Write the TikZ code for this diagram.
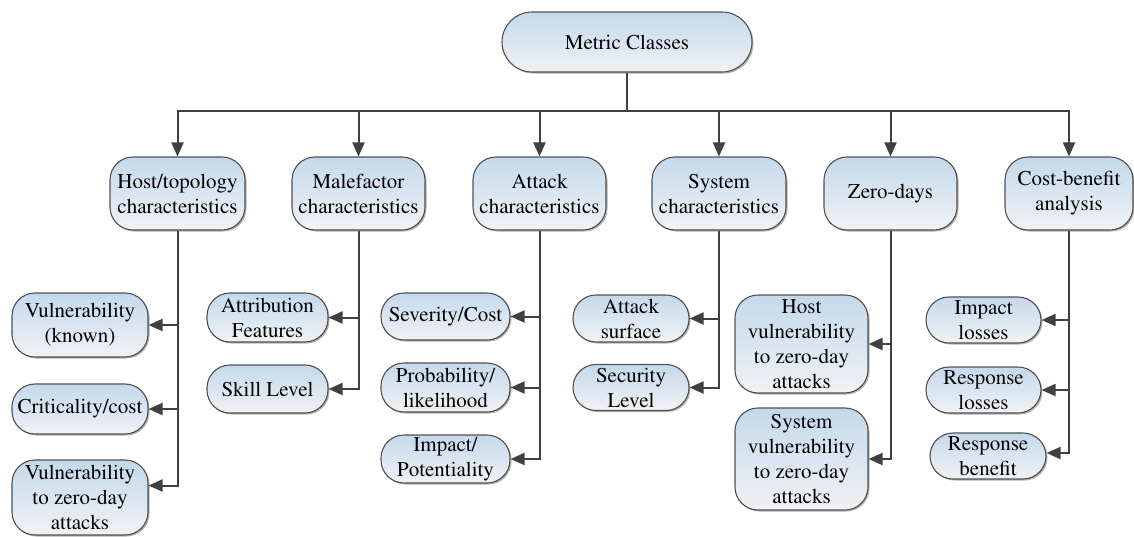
\documentclass[tikz,border=0pt]{standalone}
\usepackage[T1]{fontenc}
\usepackage{mathptmx}
\usetikzlibrary{arrows.meta,shadows}

\definecolor{boxtop}{RGB}{196,217,236}
\definecolor{boxbot}{RGB}{241,242,244}
\definecolor{boxline}{RGB}{80,80,80}
\definecolor{wire}{RGB}{64,64,64}

\tikzset{
  cls/.style={rectangle, rounded corners=23pt, draw=boxline, line width=1.1pt,
    top color=boxtop, bottom color=boxbot, align=center, inner sep=0pt,
    font=\fontsize{21}{25}\selectfont,
    drop shadow={shadow xshift=1.5pt, shadow yshift=-1.5pt, opacity=0.3, fill=black}},
  wirebase/.style={draw=wire, line width=2pt},
  feed/.style={wirebase, -{Triangle[length=14pt,width=12pt]}},
}

\begin{document}
\begin{tikzpicture}[x=1pt,y=-1pt]
\useasboundingbox (0,0) rectangle (1134,536);

% root
\node[cls, rounded corners=30pt, minimum width=250pt, minimum height=60pt] (root) at (627,42) {Metric Classes};

% first level
\node[cls, minimum width=135pt, minimum height=73pt] (host)   at (177.5,193.5) {Host/topology\\characteristics};
\node[cls, minimum width=133pt, minimum height=73pt] (male)   at (358.5,193.5) {Malefactor\\characteristics};
\node[cls, minimum width=133pt, minimum height=73pt] (attack) at (539.5,193.5) {Attack\\characteristics};
\node[cls, minimum width=134pt, minimum height=73pt] (system) at (719,193.5) {System\\characteristics};
\node[cls, minimum width=133pt, minimum height=73pt] (zero)   at (890.5,193.5) {Zero-days};
\node[cls, minimum width=128pt, minimum height=73pt] (cost)   at (1069,193.5) {Cost-benefit\\analysis};

% host/topology children
\node[cls, minimum width=136pt, minimum height=64pt] (vk) at (80,325) {Vulnerability\\(known)};
\node[cls, minimum width=136pt, minimum height=50pt] (cc) at (80,409) {Criticality/cost};
\node[cls, minimum width=136pt, minimum height=75pt] (vz) at (80,497.5) {Vulnerability\\to zero-day\\attacks};

% malefactor children
\node[cls, minimum width=121pt, minimum height=49pt] (af) at (267.5,317.5) {Attribution\\Features};
\node[cls, minimum width=121pt, minimum height=48pt] (sl) at (267.5,389) {Skill Level};

% attack children
\node[cls, minimum width=129pt, minimum height=47pt] (sc) at (445.5,316.5) {Severity/Cost};
\node[cls, minimum width=129pt, minimum height=49pt] (pl) at (445.5,387.5) {Probability/\\likelihood};
\node[cls, minimum width=129pt, minimum height=48pt] (ip) at (445.5,459) {Impact/\\Potentiality};

% system children
\node[cls, minimum width=116pt, minimum height=47pt] (as)  at (631,318.5) {Attack\\surface};
\node[cls, minimum width=116pt, minimum height=46pt] (sel) at (631,387.5) {Security\\Level};

% zero-day children
\node[cls, minimum width=133pt, minimum height=98pt]  (hv) at (801.5,344) {Host\\vulnerability\\to zero-day\\attacks};
\node[cls, minimum width=133pt, minimum height=102pt] (sv) at (801.5,459) {System\\vulnerability\\to zero-day\\attacks};

% cost-benefit children
\node[cls, minimum width=115pt, minimum height=46pt] (il) at (983.5,320) {Impact\\losses};
\node[cls, minimum width=115pt, minimum height=46pt] (rl) at (983.5,390) {Response\\losses};
\node[cls, minimum width=116pt, minimum height=46pt] (rb) at (988,456) {Response\\benefit};

% top bus
\coordinate (bus) at (627,111);
\draw[wirebase] (root.south) -- (bus);
\foreach \c in {host,male,attack,system,zero,cost}
  \draw[feed] (bus) -| (\c.north);

% second level connectors
\draw[feed] (host.south) |- (vk.east);
\draw[feed] (host.south) |- (cc.east);
\draw[feed] (host.south) |- ([yshift=12pt]vz.east);

\draw[feed] (male.south) |- (af.east);
\draw[feed] (male.south) |- (sl.east);

\draw[feed] (attack.south) |- (sc.east);
\draw[feed] (attack.south) |- (pl.east);
\draw[feed] (attack.south) |- (ip.east);

\draw[feed] (system.south) |- (as.east);
\draw[feed] (system.south) |- (sel.east);

\draw[feed] (zero.south) |- (hv.east);
\draw[feed] (zero.south) |- (sv.east);

\draw[feed] (cost.south) |- (il.east);
\draw[feed] (cost.south) |- (rl.east);
\draw[feed] (cost.south) |- ([yshift=3pt]rb.east);
\end{tikzpicture}
\end{document}
